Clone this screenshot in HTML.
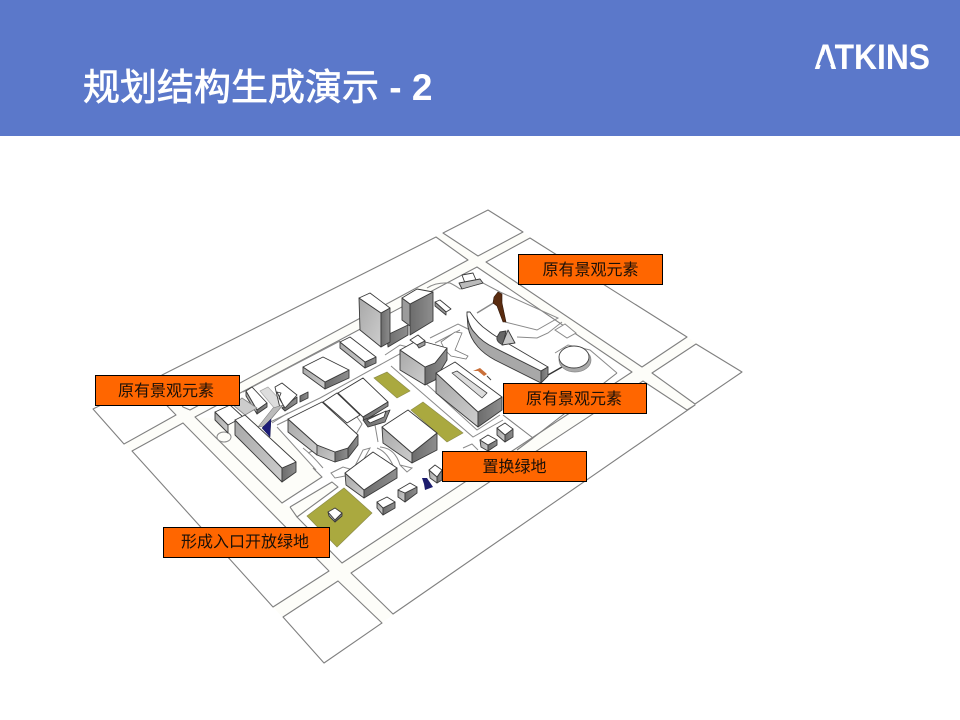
<!DOCTYPE html>
<html lang="zh">
<head>
<meta charset="utf-8">
<title>规划结构生成演示 - 2</title>
<style>
html,body{margin:0;padding:0;background:#fff;width:960px;height:720px;overflow:hidden}
svg{display:block}
.b{stroke:#3a3a3a;stroke-width:.9;stroke-linejoin:round}
.r{fill:#fff}
.l{fill:url(#gl)}
.d{fill:url(#gd)}
.m{fill:#9b9b9b}
.s{fill:none;stroke:#808080;stroke-width:1.1;stroke-linejoin:round}
.p{fill:none;stroke:#8a8a8a;stroke-width:1}
.g{fill:#aaa93f;stroke:#8d8d4a;stroke-width:.7}
.lb{fill:#ff6600;stroke:#000;stroke-width:1}
.t{font-family:"Liberation Sans","WenQuanYi Zen Hei","Noto Sans CJK SC",sans-serif;font-size:16px;fill:#1a1008;text-anchor:middle}
</style>
</head>
<body>
<svg xmlns="http://www.w3.org/2000/svg" width="960" height="720" viewBox="0 0 960 720">
<defs>
<linearGradient id="gl" x1="0" y1="0" x2="1" y2="1"><stop offset="0" stop-color="#a8a8a8"/><stop offset="1" stop-color="#cdcdcd"/></linearGradient>
<linearGradient id="gd" x1="0" y1="0" x2="1" y2="0"><stop offset="0" stop-color="#6c6c6c"/><stop offset="1" stop-color="#8e8e8e"/></linearGradient>
</defs>
<rect width="960" height="720" fill="#fff"/>
<rect width="960" height="136" fill="#5b78ca"/>
<text x="83" y="100" font-family="'Noto Sans CJK SC',sans-serif" font-size="37" fill="#fff" stroke="#fff" stroke-width=".7">规划结构生成演示<tspan font-family="'Liberation Sans',sans-serif" font-weight="700" stroke="none"> - 2</tspan></text>
<text x="814" y="69" font-family="'Liberation Sans',sans-serif" font-size="35" font-weight="700" fill="#fff" textLength="116" lengthAdjust="spacingAndGlyphs">ATKINS</text>
<polygon points="823,55 827,55 831,65 819,65" fill="#5b78ca"/>

<!-- site ground -->
<polygon points="93,409 488,210 742,372 324,663" fill="#fdfdf9"/>

<!-- street blocks -->
<g class="s">
<polygon points="443,233 488,210 523,232 478,256" fill="#fff"/>
<polygon points="486,262 530,238 687,337 642,367" fill="#fff"/>
<polygon points="652,373 696,344 742,372 695,404" fill="#fff"/>
<polygon points="643,381 687,410 695,405 393,614 351,573" fill="#fff"/>
<polygon points="338,581 382,623 324,663 283,617" fill="#fff"/>
<polygon points="132,451 183,423 329,571 273,607" fill="#fff"/>
<polygon points="93,409 145,383 176,415 124,444" fill="#fff"/>
<polygon points="162,375 436,237 468,260 190,410 183,407" fill="#fff"/>
<polygon points="195,417 477,267 632,372 342,563 297,517 338,487 332,482 290,507 297,517 290,507 282,503 322,477 272,423 195,417" fill="#fff" stroke="none"/>
<polyline points="297,517 342,563 632,372 477,267 195,417 282,503 322,477 313,468"/>
<polyline points="290,507 332,482 338,487 297,517 290,507"/>
<polyline points="617,373 533,438 503,415"/>
<polyline points="517,450 533,438"/>
</g>

<!-- inner paths -->
<g class="p">
<path d="M427,288 Q436,282 450,283 Q456,286 460,289 L483,283 L500,292 L558,318 L537,330 L505,322"/>
<path d="M477,313 L495,302" stroke-width="1.5"/>
<path d="M517,337 L537,338 L548,333 L562,322"/>
<polygon points="555,330 565,324 576,333 567,338" fill="#fff"/>
<polyline points="430,338 458,324 470,330"/>
<polyline points="435,343 460,330"/>
<polyline points="555,353 568,345 590,350 617,373"/>
<polyline points="243,392 290,367 340,341"/>
<polyline points="262,426 320,398 425,340"/>
<polyline points="277,425 322,403 363,378"/>
<polyline points="385,355 400,345 428,352"/>
<polyline points="272,423 288,413"/>
<polyline points="277,427 316,470"/>
<polyline points="391,366 473,437 503,420"/>
<polyline points="400,360 477,430 500,415"/>
<ellipse cx="224" cy="437" rx="7" ry="5"/>
<path d="M303,448 Q312,455 323,468 M308,453 L333,442"/>
<path d="M331,473 L343,467 L353,470 L363,450 L370,448 L358,470 L345,476 L335,478 Z"/>
<path d="M377,448 Q388,452 395,470 M380,447 Q395,448 400,465 L412,468 L407,472 L400,465"/>
<path d="M357,417 L362,424 L355,436 M375,425 L378,442"/>
<path d="M463,448 L472,444 L478,450"/>
</g>

<!-- greens -->
<polygon class="g" points="411,410 423,402 463,433 447,442"/>
<polygon class="g" points="374,378 387,372 410,391 397,398"/>
<polygon class="g" points="307,516 344,488 372,513 337,547"/>

<!-- top little building and bar -->
<g class="b">
<polygon class="r" points="462,275 473,273 476,280 465,283"/>
<polygon fill="#bbb" points="459,283 480,279 483,283 462,289"/>
<polygon class="r" points="435,302 440,300 451,309 446,312"/>
<polygon class="m" points="435,302 446,312 446,315 435,306"/>
</g>

<!-- towers -->
<g class="b">
<polygon class="d" points="387,335 408,325 408,335 388,347"/>
<polygon class="l" points="359,298 381,313 381,347 360,330"/>
<polygon class="d" points="381,313 390,308 390,342 381,347"/>
<polygon class="r" points="359,298 370,293 390,308 381,313"/>
<polygon class="m" points="402,298 410,304 410,326 402,320"/>
<polygon class="d" points="410,304 433,292 433,321 410,335"/>
<polygon class="r" points="402,298 417,289 433,292 410,304"/>
</g>

<!-- tree brown -->
<path d="M494,297 L498,292 L502,294 L502,303 L506,322 L503,322 L497,306 L493,303Z" fill="#5a2c10" stroke="#2d1408" stroke-width=".6"/>

<!-- white leaf -->
<polygon points="441,342 455,332 462,333 455,350 468,356 466,359 451,356 445,350" fill="#fff" stroke="#777" stroke-width=".8"/>

<!-- curved building -->
<g class="b">
<path style="fill:#a8a8a8" d="M467,315 Q469,327 475,333 Q482,342 495,348 L541,371 L541,383 L495,360 Q484,354 478,347 Q470,338 468,327Z"/>
<path class="r" d="M467,312 L470,312 Q478,324 487,330 Q492,334 497,337 L548,367 L541,371 L495,348 Q482,342 475,333 Q469,327 467,315Z"/>
<polygon class="d" points="541,371 548,367 548,376 541,383"/>
<path d="M500,332 L506,331 L503,345 Q496,342 497,337Z" fill="#666"/>
<polygon points="508,330 515,343 502,345" fill="#c8c8c8"/>
</g>
<line x1="548" y1="375" x2="562" y2="367" stroke="#333" stroke-width="1.4"/>
<!-- round building -->
<ellipse cx="575" cy="360" rx="16" ry="12" fill="#aaa" stroke="#888" stroke-width=".7"/>
<ellipse cx="574" cy="357" rx="15" ry="11" fill="#fff" stroke="#444" stroke-width=".9"/>

<!-- building C -->
<g class="b">
<polygon class="l" points="400,350 425,367 425,385 400,370"/>
<polygon class="d" points="425,367 435,363 447,348 447,360 435,380 425,385"/>
<polygon class="r" points="400,350 418,340 447,348 435,363 425,367"/>
<polygon class="r" points="410,340 418,335 425,341 417,345"/>
<polygon class="m" points="417,345 425,341 425,345 419,348"/>
</g>

<!-- building D -->
<g class="b">
<polygon class="l" points="436,373 478,412 478,427 436,393"/>
<polygon class="d" points="478,412 502,397 502,410 478,427"/>
<polygon class="r" points="436,373 455,362 502,397 478,412"/>
<polygon points="452,373 457,371 487,393 482,398" fill="#ddd" stroke="#444" stroke-width=".8"/>
</g>
<path d="M473,371 L480,368 L487,374 L484,376 L478,371Z" fill="#c9703a"/>
<path d="M487,376 L491,380" stroke="#444" stroke-width="1"/>

<!-- left cluster -->
<g class="b">
<polygon class="l" points="303,367 325,382 325,389 303,373"/>
<polygon class="d" points="325,382 349,370 349,378 325,389"/>
<polygon class="r" points="303,367 323,357 349,370 325,382"/>
<polygon class="l" points="340,342 365,362 365,368 340,348"/>
<polygon class="d" points="365,362 376,357 376,363 365,368"/>
<polygon class="r" points="340,342 350,337 376,357 365,362"/>
<polygon points="260,391 268,387 284,404 275,409" fill="#ddd" stroke="#aaa" stroke-width=".7"/>
<polygon class="l" points="246,391 257,410 257,414 246,396"/>
<polygon class="r" points="246,391 252,387 267,403 257,410"/>
<polygon class="d" points="257,410 267,403 267,407 257,414"/>
<polygon fill="#ccc" points="233,405 242,398 257,408 245,415" stroke="#888"/>
<polygon class="d" points="282,408 297,397 297,403 285,411"/>
<path class="r" d="M275,387 L282,383 L297,395 L285,408 L279,398 L281,393 L277,392 L283,405 L280,408Z"/>
<polygon class="d" points="300,396 308,392 308,398 300,402"/>
<polygon points="258,427 273,408 283,405 265,426" fill="#bbb" stroke="#777" stroke-width=".6"/>
</g>
<polygon points="262,428 271,419 270,437" fill="#1c1c78" stroke="#101050" stroke-width=".5"/>
<!-- long bar -->
<g class="b">
<polygon class="l" points="215,412 228,425 228,433 215,420"/>
<polygon class="r" points="215,412 230,405 243,417 228,425"/>
<polygon class="l" points="235,420 282,468 282,482 235,435"/>
<polygon class="d" points="282,468 296,462 296,472 282,482"/>
<polygon class="r" points="235,420 245,415 296,462 282,468"/>
</g>

<!-- building E -->
<g class="b">
<polygon class="l" points="288,419 317,445 317,455 288,432"/>
<polygon class="l" points="317,445 335,452 335,462 317,455"/>
<polygon class="d" points="335,452 348,448 348,458 335,462"/>
<polygon class="d" points="348,448 358,435 358,445 348,458"/>
<polygon class="r" points="288,419 322,402 358,435 348,448 335,452 317,445"/>
</g>
<!-- building F -->
<g class="b">
<polygon class="r" points="323,402 337,393 360,415 347,423"/>
<polygon class="r" points="338,393 363,378 388,402 363,417"/>
<polygon class="d" points="363,417 388,402 388,406 364,421"/>
<polygon class="d" points="363,420 390,410 385,422 368,427"/>
<polygon class="r" points="367,420 386,411 384,417 370,423"/>
</g>
<!-- building G -->
<g class="b">
<polygon class="l" points="382,427 412,453 412,463 383,443"/>
<polygon class="d" points="412,453 437,433 437,450 412,463"/>
<polygon class="r" points="382,427 408,410 437,433 412,453"/>
</g>
<!-- building H -->
<g class="b">
<polygon class="l" points="345,473 364,490 364,498 346,485"/>
<polygon class="d" points="364,490 397,468 397,478 364,498"/>
<polygon class="r" points="345,473 373,452 397,468 364,490"/>
</g>
<!-- small buildings -->
<g class="b">
<polygon class="l" points="377,502 383,508 383,515 377,508"/>
<polygon class="d" points="383,508 395,502 395,508 383,515"/>
<polygon class="r" points="377,502 387,497 395,502 383,508"/>
<polygon class="l" points="398,490 405,493 405,502 398,497"/>
<polygon class="d" points="405,493 417,487 417,493 405,502"/>
<polygon class="r" points="398,490 410,483 417,487 405,493"/>
<polygon class="l" points="429,470 437,477 437,483 430,478"/>
<polygon class="d" points="437,477 442,470 442,480 437,483"/>
<polygon class="r" points="429,470 435,465 442,470 437,477"/>
<polygon class="l" points="480,440 488,445 488,451 481,447"/>
<polygon class="d" points="488,445 497,440 497,445 488,451"/>
<polygon class="r" points="480,440 488,435 497,440 488,445"/>
<polygon class="l" points="497,428 505,435 505,442 497,435"/>
<polygon class="d" points="505,435 513,429 513,437 505,442"/>
<polygon class="r" points="497,428 505,423 513,429 505,435"/>
<polygon class="l" points="328,512 335,520 335,522 329,516"/>
<polygon class="d" points="335,520 342,513 342,516 335,522"/>
<polygon class="r" points="328,512 335,508 342,513 335,520"/>
</g>
<polygon points="422,478 427,478 433,487 425,490 424,484" fill="#1c1c6e"/>

<!-- labels -->
<rect class="lb" x="518.500" y="254.500" width="144" height="30"/>
<text class="t" x="590.500" y="275">原有景观元素</text>
<rect class="lb" x="503.500" y="383.500" width="143" height="30"/>
<text class="t" x="574" y="404">原有景观元素</text>
<rect class="lb" x="95.500" y="375.500" width="144" height="30"/>
<text class="t" x="166" y="396">原有景观元素</text>
<rect class="lb" x="163.500" y="527.500" width="166" height="30"/>
<text class="t" x="245" y="547">形成入口开放绿地</text>
<rect class="lb" x="442.500" y="451.500" width="144" height="30"/>
<text class="t" x="514.500" y="472">置换绿地</text>
</svg>
</body>
</html>
